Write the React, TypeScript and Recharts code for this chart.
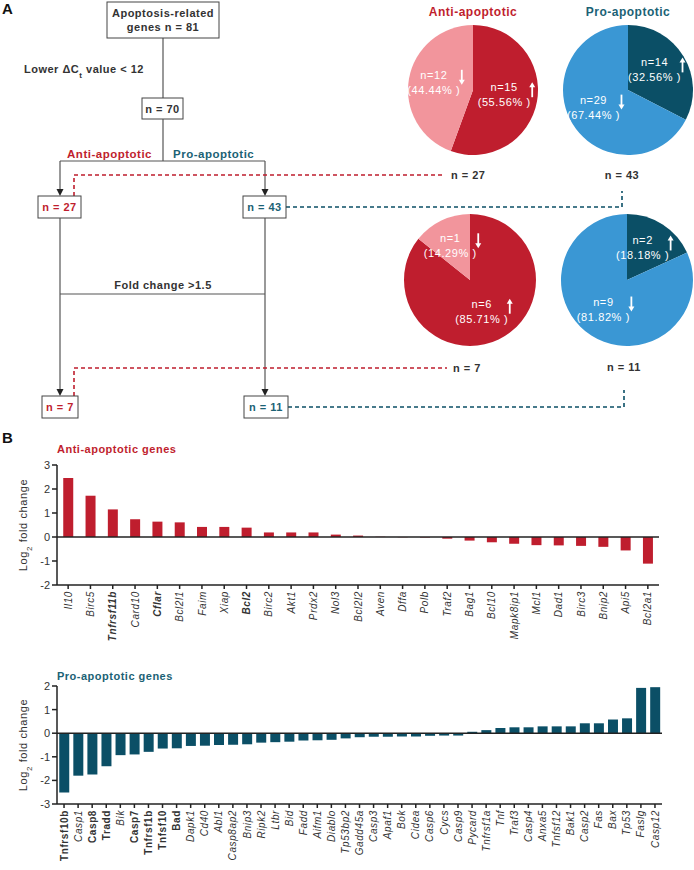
import React from 'react';
import { BarChart, Bar, XAxis, YAxis, ReferenceLine, PieChart, Pie, Cell } from 'recharts';

const RED = '#bf1e2e';
const PINK = '#f2959c';
const TEAL = '#0b4f66';
const BLUE = '#3a97d4';
const TEAL_TEXT = '#1b6275';
const INK = '#333333';
const FONT = '"Liberation Sans", Arial, sans-serif';

// pie counts: [up, down]
const pieGroups = ['up', 'down'];
const antiAllCounts = [15, 12];
const proAllCounts = [14, 29];
const antiFoldCounts = [6, 1];
const proFoldCounts = [2, 9];

const antiGenes = [
  'Il10', 'Birc5', 'Tnfrsf11b', 'Card10', 'Cflar', 'Bcl2l1', 'Faim', 'Xiap', 'Bcl2',
  'Birc2', 'Akt1', 'Prdx2', 'Nol3', 'Bcl2l2', 'Aven', 'Dffa', 'Polb', 'Traf2', 'Bag1',
  'Bcl10', 'Mapk8ip1', 'Mcl1', 'Dad1', 'Birc3', 'Bnip2', 'Api5', 'Bcl2a1',
];
const antiLog2 = [
  2.46, 1.72, 1.15, 0.74, 0.64, 0.61, 0.42, 0.42, 0.39,
  0.19, 0.19, 0.19, 0.1, 0.06, 0.01, -0.01, -0.02, -0.07, -0.15,
  -0.22, -0.28, -0.34, -0.35, -0.37, -0.41, -0.56, -1.11,
];
const antiBold = ['Tnfrsf11b', 'Cflar', 'Bcl2'];

const proGenes = [
  'Tnfrsf10b', 'Casp1', 'Casp8', 'Tradd', 'Bik', 'Casp7', 'Tnfrsf1b', 'Tnfsf10', 'Bad',
  'Dapk1', 'Cd40', 'Abl1', 'Casp8ap2', 'Bnip3', 'Ripk2', 'Ltbr', 'Bid', 'Fadd', 'Aifm1',
  'Diablo', 'Tp53bp2', 'Gadd45a', 'Casp3', 'Apaf1', 'Bok', 'Cidea', 'Casp6', 'Cycs',
  'Casp9', 'Pycard', 'Tnfrsf1a', 'Tnf', 'Traf3', 'Casp4', 'Anxa5', 'Tnfsf12', 'Bak1',
  'Casp2', 'Fas', 'Bax', 'Tp53', 'Faslg', 'Casp12',
];
const proLog2 = [
  -2.51, -1.8, -1.75, -1.4, -0.93, -0.9, -0.79, -0.65, -0.64,
  -0.54, -0.53, -0.5, -0.49, -0.47, -0.4, -0.38, -0.36, -0.31, -0.3,
  -0.28, -0.22, -0.17, -0.15, -0.15, -0.14, -0.14, -0.11, -0.1,
  -0.1, 0.06, 0.13, 0.22, 0.25, 0.25, 0.29, 0.29, 0.29,
  0.42, 0.42, 0.58, 0.63, 1.92, 1.95,
];
const proBold = ['Tnfrsf10b', 'Casp8', 'Tradd', 'Casp7', 'Tnfrsf1b', 'Tnfsf10', 'Bad'];

const antiData = antiGenes.map((gene, i) => ({ gene, value: antiLog2[i] }));
const proData = proGenes.map((gene, i) => ({ gene, value: proLog2[i] }));
const toPie = (counts: number[]) => pieGroups.map((dir, i) => ({ dir, value: counts[i] }));

const RAD = Math.PI / 180;

function pieLabel(props: any) {
  const { cx, cy, midAngle, outerRadius, value, percent, payload } = props;
  const r = outerRadius * 0.55;
  const x = cx + r * Math.cos(-midAngle * RAD);
  const y = cy + r * Math.sin(-midAngle * RAD);
  const up = (payload?.dir ?? props.dir) === 'up';
  const ax = x + 24;
  const y0 = y - 14;
  const y1 = y + 1;
  const style = { fill: '#fff', fontSize: 11, fontFamily: FONT, letterSpacing: 0.6 };
  return (
    <g>
      <text x={x - 4} y={y - 5} textAnchor="middle" style={style}>n={value}</text>
      <text x={x - 4} y={y + 10} textAnchor="middle" style={style}>({(percent * 100).toFixed(2)}% )</text>
      <line x1={ax} x2={ax} y1={up ? y0 + 4 : y0} y2={up ? y1 : y1 - 4} stroke="#fff" strokeWidth={1.8} />
      {up ? (
        <polygon points={`${ax - 3},${y0 + 5} ${ax + 3},${y0 + 5} ${ax},${y0}`} fill="#fff" />
      ) : (
        <polygon points={`${ax - 3},${y1 - 5} ${ax + 3},${y1 - 5} ${ax},${y1}`} fill="#fff" />
      )}
    </g>
  );
}

function PieBlock({ counts, colors, left, top, radius }: any) {
  const size = 150;
  return (
    <div style={{ position: 'absolute', left, top, width: size, height: size }}>
      <PieChart width={size} height={size} margin={{ top: 0, right: 0, bottom: 0, left: 0 }}>
        <Pie
          data={toPie(counts)}
          dataKey="value"
          cx={size / 2}
          cy={size / 2}
          outerRadius={radius}
          startAngle={90}
          endAngle={-270}
          stroke="none"
          label={pieLabel}
          labelLine={false}
          isAnimationActive={false}
        >
          {counts.map((_: number, i: number) => (
            <Cell key={i} fill={colors[i]} />
          ))}
        </Pie>
      </PieChart>
    </div>
  );
}

function geneTick(boldSet: string[], boldItalic: boolean) {
  return (p: any) => {
    const { x, y, payload } = p;
    const isBold = boldSet.includes(payload.value);
    return (
      <text
        x={x}
        y={y}
        dy={3.6}
        transform={`rotate(-90 ${x} ${y})`}
        textAnchor="end"
        fill={INK}
        fontSize={10}
        fontFamily={FONT}
        fontWeight={isBold ? 'bold' : 'normal'}
        fontStyle={isBold && !boldItalic ? 'normal' : 'italic'}
        letterSpacing={0.6}
      >
        {payload.value}
      </text>
    );
  };
}

const axisStroke = { stroke: '#222', strokeWidth: 1.5 };

function GeneChart({ data, color, boldSet, boldItalic, domain, ticks, top, marginTop, xHeight, marginRight, gap }: any) {
  return (
    <div style={{ position: 'absolute', left: 0, top, width: 694, height: 210 }}>
      <BarChart
        width={694}
        height={210}
        data={data}
        margin={{ top: marginTop, right: marginRight, bottom: 0, left: 0 }}
        barCategoryGap={gap}
      >
        <XAxis
          dataKey="gene"
          interval={0}
          height={xHeight}
          axisLine={axisStroke}
          tickLine={axisStroke}
          tickSize={4}
          tick={geneTick(boldSet, boldItalic)}
        />
        <YAxis
          width={57}
          domain={domain}
          ticks={ticks}
          interval={0}
          axisLine={axisStroke}
          tickLine={axisStroke}
          tickSize={5}
          tickMargin={2}
          tick={{ fill: INK, fontSize: 11, fontFamily: FONT }}
        />
        <Bar dataKey="value" fill={color} isAnimationActive={false} />
        <ReferenceLine y={0} stroke="#222" strokeWidth={1.5} />
      </BarChart>
    </div>
  );
}

const txt = { fontFamily: FONT, fontWeight: 'bold' as const, fontSize: 11, letterSpacing: 0.5 };

function Arrow({ x, tip }: { x: number; tip: number }) {
  return <polygon points={`${x - 3.5},${tip - 7} ${x + 3.5},${tip - 7} ${x},${tip}`} fill="#222" />;
}

function YTitle({ cy }: { cy: number }) {
  const cx = 27;
  return (
    <text
      x={cx}
      y={cy}
      transform={`rotate(-90 ${cx} ${cy})`}
      textAnchor="middle"
      fill={INK}
      fontSize={11}
      fontFamily={FONT}
      letterSpacing={0.6}
    >
      Log<tspan fontSize={8} baselineShift="sub">2</tspan> fold change
    </text>
  );
}

function Flow() {
  const box = { fill: '#fff', stroke: '#444', strokeWidth: 1 };
  const line = { stroke: '#555', strokeWidth: 1.2 };
  const redDash = { stroke: RED, strokeWidth: 1.6, strokeDasharray: '4 3', fill: 'none' };
  const tealDash = { stroke: TEAL, strokeWidth: 1.6, strokeDasharray: '4 3', fill: 'none' };
  return (
    <svg width={694} height={870} style={{ position: 'absolute', left: 0, top: 0 }}>
      <text x={2} y={14} style={{ ...txt, fontSize: 15, fill: '#111' }}>A</text>
      <text x={2} y={443} style={{ ...txt, fontSize: 15, fill: '#111' }}>B</text>

      <line x1={163} y1={38} x2={163} y2={98} style={line} />
      <rect x={107} y={2} width={112} height={36} style={box} />
      <text x={163} y={17} textAnchor="middle" style={{ ...txt, fill: INK }}>Apoptosis-related</text>
      <text x={163} y={31} textAnchor="middle" style={{ ...txt, fill: INK }}>genes n = 81</text>
      <text x={24} y={73} style={{ ...txt, fill: INK }}>
        Lower ΔC<tspan fontSize={8} baselineShift="sub">t</tspan> value &lt; 12
      </text>
      <rect x={142} y={98} width={41} height={21} style={box} />
      <text x={162.5} y={112.5} textAnchor="middle" style={{ ...txt, fill: INK }}>n = 70</text>
      <line x1={163} y1={119} x2={163} y2={161} style={line} />
      <line x1={60} y1={161} x2={265} y2={161} style={line} />
      <text x={152} y={158} textAnchor="end" style={{ ...txt, fontSize: 11.5, fill: RED }}>Anti-apoptotic</text>
      <text x={173} y={158} style={{ ...txt, fontSize: 11.5, fill: TEAL_TEXT }}>Pro-apoptotic</text>
      <line x1={60} y1={161} x2={60} y2={192} style={line} />
      <line x1={265} y1={161} x2={265} y2={192} style={line} />
      <Arrow x={60} tip={196} />
      <Arrow x={265} tip={196} />

      <polyline points="74,196 74,175 444,175" style={redDash} />
      <text x={451} y={179} style={{ ...txt, fill: INK }}>n = 27</text>
      <polyline points="286,207 622,207 622,191" style={tealDash} />
      <text x={622} y={179} textAnchor="middle" style={{ ...txt, fill: INK }}>n = 43</text>

      <rect x={38} y={196} width={43} height={22} style={box} />
      <text x={59.5} y={211} textAnchor="middle" style={{ ...txt, fill: RED }}>n = 27</text>
      <rect x={243} y={196} width={43} height={22} style={box} />
      <text x={264.5} y={211} textAnchor="middle" style={{ ...txt, fill: TEAL_TEXT }}>n = 43</text>

      <line x1={60} y1={218} x2={60} y2={392} style={line} />
      <line x1={265} y1={218} x2={265} y2={392} style={line} />
      <line x1={60} y1={294} x2={265} y2={294} style={line} />
      <text x={163} y={289} textAnchor="middle" style={{ ...txt, fill: INK }}>Fold change &gt;1.5</text>
      <Arrow x={60} tip={396} />
      <Arrow x={265} tip={396} />

      <polyline points="74,396 74,368 447,368" style={redDash} />
      <text x={453} y={372} style={{ ...txt, fill: INK }}>n = 7</text>
      <polyline points="288,407 624,407 624,390" style={tealDash} />
      <text x={624} y={371} textAnchor="middle" style={{ ...txt, fill: INK }}>n = 11</text>

      <rect x={42} y={396} width={36} height={22} style={box} />
      <text x={60} y={411} textAnchor="middle" style={{ ...txt, fill: RED }}>n = 7</text>
      <rect x={244} y={396} width={44} height={22} style={box} />
      <text x={266} y={411} textAnchor="middle" style={{ ...txt, fill: TEAL_TEXT }}>n = 11</text>

      <text x={473} y={16} textAnchor="middle" style={{ ...txt, fontSize: 12, fill: RED }}>Anti-apoptotic</text>
      <text x={628} y={16} textAnchor="middle" style={{ ...txt, fontSize: 12, fill: TEAL_TEXT }}>Pro-apoptotic</text>

      <text x={57} y={453} style={{ ...txt, fill: RED }}>Anti-apoptotic genes</text>
      <text x={57} y={680} style={{ ...txt, fill: TEAL_TEXT }}>Pro-apoptotic genes</text>
      <YTitle cy={525} />
      <YTitle cy={745} />
    </svg>
  );
}

export default function App() {
  return (
    <div style={{ position: 'relative', width: 694, height: 870, background: '#fff', overflow: 'hidden' }}>
      <style>{'body{margin:0}'}</style>
      <Flow />
      <PieBlock counts={antiAllCounts} colors={[RED, PINK]} left={398} top={15} radius={65} />
      <PieBlock counts={proAllCounts} colors={[TEAL, BLUE]} left={553} top={15} radius={65} />
      <PieBlock counts={antiFoldCounts} colors={[RED, PINK]} left={395} top={205} radius={66} />
      <PieBlock counts={proFoldCounts} colors={[TEAL, BLUE]} left={552} top={205} radius={66} />
      <GeneChart
        data={antiData}
        color={RED}
        boldSet={antiBold}
        boldItalic
        domain={[-2, 3]}
        ticks={[-2, -1, 0, 1, 2, 3]}
        top={440}
        marginTop={25}
        xHeight={65}
        marginRight={35}
        gap="28%"
      />
      <GeneChart
        data={proData}
        color={TEAL}
        boldSet={proBold}
        boldItalic={false}
        domain={[-3, 2]}
        ticks={[-3, -2, -1, 0, 1, 2]}
        top={660}
        marginTop={26}
        xHeight={66}
        marginRight={32}
        gap="16%"
      />
    </div>
  );
}
